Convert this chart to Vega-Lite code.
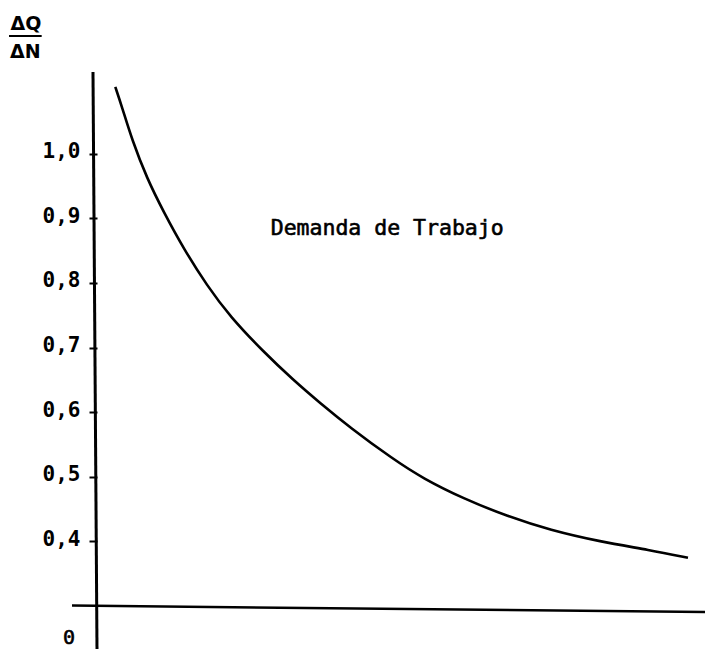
{
  "$schema": "https://vega.github.io/schema/vega-lite/v6.json",
  "width": 608,
  "height": 577,
  "autosize": {"type": "none"},
  "padding": {"left": 97, "top": 72, "right": 0, "bottom": 0},
  "background": "white",
  "config": {"view": {"stroke": null}},
  "datasets": {
    "curve": [
      {"x": 3.01, "y": 1.104},
      {"x": 4.11, "y": 1.073},
      {"x": 5.76, "y": 1.022},
      {"x": 8.22, "y": 0.962},
      {"x": 10.97, "y": 0.910},
      {"x": 14.26, "y": 0.853},
      {"x": 18.09, "y": 0.796},
      {"x": 21.88, "y": 0.748},
      {"x": 27.42, "y": 0.693},
      {"x": 32.24, "y": 0.650},
      {"x": 36.68, "y": 0.614},
      {"x": 41.61, "y": 0.576},
      {"x": 48.68, "y": 0.527},
      {"x": 53.62, "y": 0.497},
      {"x": 60.20, "y": 0.466},
      {"x": 67.60, "y": 0.438},
      {"x": 74.51, "y": 0.417},
      {"x": 82.73, "y": 0.399},
      {"x": 90.95, "y": 0.386},
      {"x": 97.20, "y": 0.374}
    ],
    "vaxis": [{"x": -0.66, "y": 1.127, "x2": 0, "y2": 0.2326}],
    "haxis": [{"x": -4.11, "y": 0.300, "x2": 100, "y2": 0.290}],
    "frac": [{"x": -14.47, "y": 1.183, "x2": -9.1, "y2": 1.183}],
    "fracText": [
      {"x": -11.68, "y": 1.202, "t": "ΔQ"},
      {"x": -11.78, "y": 1.1586, "t": "ΔN"}
    ],
    "label": [{"x": 28.57, "y": 0.884, "t": "Demanda de Trabajo"}],
    "zero": [{"x": -4.6, "y": 0.2334, "t": "0"}]
  },
  "encoding": {
    "x": {"field": "x", "type": "quantitative", "scale": {"domain": [0, 100], "nice": false, "zero": false}, "axis": null},
    "y": {
      "field": "y",
      "type": "quantitative",
      "scale": {"domain": [0.2326, 1.1271], "nice": false, "zero": false},
      "axis": {
        "values": [0.4, 0.5, 0.6, 0.7, 0.8, 0.9, 1.0],
        "labelExpr": "replace(format(datum.value, '.1f'), '.', ',')",
        "domain": false,
        "grid": false,
        "title": null,
        "tickSize": 8,
        "tickWidth": 2,
        "tickColor": "black",
        "labelFont": "DejaVu Sans Mono",
        "labelFontSize": 21,
        "labelFontWeight": "bold",
        "labelColor": "black",
        "labelPadding": 9,
        "labelOffset": -2
      }
    }
  },
  "layer": [
    {
      "data": {"name": "vaxis"},
      "mark": {"type": "rule", "color": "black", "strokeWidth": 3},
      "encoding": {"x2": {"field": "x2"}, "y2": {"field": "y2"}}
    },
    {
      "data": {"name": "haxis"},
      "mark": {"type": "rule", "color": "black", "strokeWidth": 2.5},
      "encoding": {"x2": {"field": "x2"}, "y2": {"field": "y2"}}
    },
    {
      "data": {"name": "frac"},
      "mark": {"type": "rule", "color": "black", "strokeWidth": 2},
      "encoding": {"x2": {"field": "x2"}, "y2": {"field": "y2"}}
    },
    {
      "data": {"name": "curve"},
      "mark": {"type": "line", "color": "black", "strokeWidth": 2.6, "interpolate": "basis"}
    },
    {
      "data": {"name": "fracText"},
      "mark": {"type": "text", "font": "DejaVu Sans", "fontWeight": "bold", "fontSize": 19, "color": "black", "align": "center", "baseline": "middle"},
      "encoding": {"text": {"field": "t"}}
    },
    {
      "data": {"name": "label"},
      "mark": {"type": "text", "font": "DejaVu Sans Mono", "fontSize": 21.5, "color": "black", "stroke": "black", "strokeWidth": 0.6, "align": "left", "baseline": "middle"},
      "encoding": {"text": {"field": "t"}}
    },
    {
      "data": {"name": "zero"},
      "mark": {"type": "text", "font": "DejaVu Sans Mono", "fontSize": 20, "color": "black", "stroke": "black", "strokeWidth": 0.6, "align": "center", "baseline": "bottom"},
      "encoding": {"text": {"field": "t"}}
    }
  ]
}
